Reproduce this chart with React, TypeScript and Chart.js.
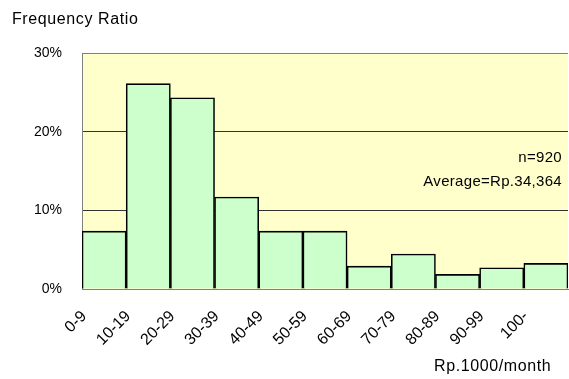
import React, { useEffect, useRef } from 'react';
import { Chart, registerables } from 'chart.js';

Chart.register(...registerables);

// Monthly amount brackets (Rp.1000/month)
const categories = ['0-9', '10-19', '20-29', '30-39', '40-49', '50-59', '60-69', '70-79', '80-89', '90-99', '100-'];
// Share of respondents in each bracket (%)
const ratios = [7.35, 26.1, 24.3, 11.7, 7.35, 7.35, 2.9, 4.45, 1.85, 2.7, 3.25];
const yTicks = [0, 10, 20, 30];
const sampleNote = 'n=920';
const averageNote = 'Average=Rp.34,364';
const yTitle = 'Frequency Ratio';
const xTitle = 'Rp.1000/month';

const FONT = '"Liberation Sans", Arial, sans-serif';
const W = 569;
const H = 379;

const annotations = {
  id: 'annotations',
  beforeDraw(chart: any) {
    const { ctx, chartArea } = chart;
    ctx.save();
    ctx.fillStyle = '#FFFFCC';
    ctx.fillRect(chartArea.left, chartArea.top, chartArea.right - chartArea.left, chartArea.bottom - chartArea.top);
    ctx.restore();
  },
  afterDraw(chart: any) {
    const { ctx, chartArea } = chart;
    ctx.save();
    ctx.fillStyle = '#000';
    ctx.textBaseline = 'alphabetic';
    ctx.textAlign = 'left';
    ctx.font = `16px ${FONT}`;
    ctx.letterSpacing = '0.6px';
    ctx.fillText(yTitle, 12, 24);
    ctx.letterSpacing = '0.6px';
    ctx.fillText(xTitle, 434, 371);
    ctx.font = `15px ${FONT}`;
    ctx.letterSpacing = '0.3px';
    ctx.textAlign = 'right';
    ctx.textBaseline = 'middle';
    ctx.fillText(sampleNote, chartArea.right - 6, 158);
    ctx.fillText(averageNote, chartArea.right - 6, 182);
    ctx.restore();
  },
};

export default function App() {
  const ref = useRef<HTMLCanvasElement | null>(null);

  useEffect(() => {
    if (!ref.current) return;
    const chart = new Chart(ref.current, {
      type: 'bar',
      data: {
        labels: categories,
        datasets: [
          {
            data: ratios,
            backgroundColor: '#CCFFCC',
            borderColor: '#000000',
            borderWidth: 1.6,
            barPercentage: 1,
            categoryPercentage: 1,
          },
        ],
      },
      options: {
        responsive: false,
        animation: false,
        devicePixelRatio: 1,
        layout: { padding: { top: 53, right: 1, left: 0, bottom: 0 } },
        plugins: {
          legend: { display: false },
          tooltip: { enabled: false },
        },
        scales: {
          x: {
            grid: { display: false, drawTicks: false },
            border: { display: true, color: '#808080', width: 1 },
            ticks: {
              color: '#000',
              font: { family: FONT, size: 16 },
              minRotation: 45,
              maxRotation: 45,
              labelOffset: -20,
              padding: 18,
              autoSkip: false,
            },
            afterFit(scale: any) {
              scale.height = 90;
              scale.paddingLeft = 0;
              scale.paddingRight = 0;
            },
          },
          y: {
            min: 0,
            max: 30,
            afterBuildTicks(scale: any) {
              scale.ticks = yTicks.map((v) => ({ value: v }));
            },
            grid: {
              drawTicks: false,
              color: (c: any) => (c.tick && (c.tick.value === 0 || c.tick.value === 30) ? '#808080' : '#333333'),
              lineWidth: 1,
            },
            border: { display: true, color: '#808080', width: 1 },
            ticks: {
              color: '#000',
              font: { family: FONT, size: 14 },
              padding: 20,
              callback: (v: any) => `${v}%`,
            },
            afterFit(scale: any) {
              scale.width = 82;
              scale.paddingTop = 0;
              scale.paddingBottom = 0;
            },
          },
        },
      },
      plugins: [annotations],
    });
    return () => chart.destroy();
  }, []);

  return (
    <div style={{ position: 'fixed', left: 0, top: 0, width: W, height: H, background: '#fff' }}>
      <canvas ref={ref} width={W} height={H} />
    </div>
  );
}
